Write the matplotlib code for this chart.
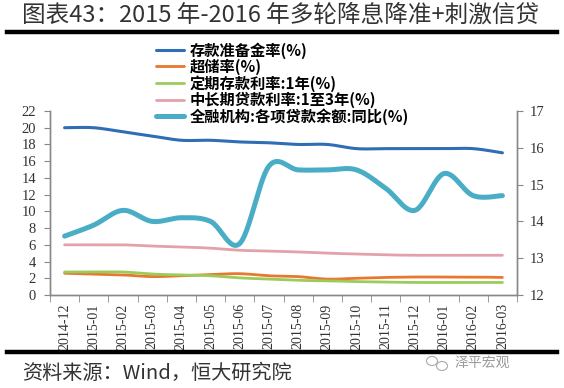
import numpy as np
import matplotlib
matplotlib.use("Agg")
import matplotlib.pyplot as plt
from matplotlib.patches import Ellipse

plt.rcParams['font.family'] = ['Noto Sans CJK SC', 'DejaVu Sans']

months = ["2014-12", "2015-01", "2015-02", "2015-03", "2015-04", "2015-05", "2015-06",
          "2015-07", "2015-08", "2015-09", "2015-10", "2015-11", "2015-12",
          "2016-01", "2016-02", "2016-03"]
rrr = [20.0, 20.0, 19.5, 19.0, 18.5, 18.5, 18.3, 18.2, 18.0, 18.0, 17.5, 17.5, 17.5, 17.5, 17.5, 17.0]
excess = [2.6, 2.5, 2.4, 2.2, 2.3, 2.45, 2.55, 2.3, 2.2, 1.9, 2.0, 2.1, 2.15, 2.15, 2.15, 2.1]
deposit_1y = [2.75, 2.75, 2.75, 2.5, 2.4, 2.3, 2.05, 1.9, 1.75, 1.7, 1.6, 1.55, 1.5, 1.5, 1.5, 1.5]
loan_1_3y = [6.0, 6.0, 6.0, 5.85, 5.75, 5.6, 5.35, 5.25, 5.15, 5.0, 4.9, 4.8, 4.75, 4.75, 4.75, 4.75]
loan_growth = [13.6, 13.9, 14.3, 14.0, 14.1, 14.0, 13.4, 15.5, 15.4, 15.4, 15.4, 14.9, 14.3, 15.3, 14.7, 14.7]

names = ["存款准备金率(%)", "超储率(%)", "定期存款利率:1年(%)", "中长期贷款利率:1至3年(%)",
         "全融机构:各项贷款余额:同比(%)"]
colors = ["#2F6DB5", "#E8782E", "#9CCB5A", "#E3A1AA", "#4AADC6"]
widths = [2.2, 2.0, 2.0, 2.0, 3.6]


def smooth(y, n=30):
    y = np.asarray(y, float)
    x = np.arange(len(y), dtype=float)
    xs, ys = [], []
    m = len(y)
    for i in range(m - 1):
        i0, i2, i3 = max(i - 1, 0), i + 1, min(i + 2, m - 1)
        p0 = np.array([x[i], y[i]])
        p3 = np.array([x[i2], y[i2]])
        c1 = p0 + (np.array([x[i2], y[i2]]) - np.array([x[i0], y[i0]])) / 6
        c2 = p3 - (np.array([x[i3], y[i3]]) - np.array([x[i], y[i]])) / 6
        t = np.linspace(0, 1, n)[:, None]
        pts = (1 - t) ** 3 * p0 + 3 * (1 - t) ** 2 * t * c1 + 3 * (1 - t) * t ** 2 * c2 + t ** 3 * p3
        xs.extend(pts[:, 0]); ys.extend(pts[:, 1])
    return np.array(xs), np.array(ys)


fig = plt.figure(figsize=(5.64, 3.88), dpi=100)
ax = fig.add_axes([50 / 564, 1 - 295 / 388, 467 / 564, 184 / 388])
ax2 = ax.twinx()

handles = []
for ser, c, w, nm in zip([rrr, excess, deposit_1y, loan_1_3y], colors[:4], widths[:4], names[:4]):
    sx, sy = smooth(ser)
    h, = ax.plot(sx, sy, color=c, lw=w, solid_capstyle='round', label=nm)
    handles.append(h)
sx, sy = smooth(loan_growth)
h, = ax2.plot(sx, sy, color=colors[4], lw=widths[4], solid_capstyle='round', label=names[4])
handles.append(h)

ax.set_xlim(-0.5, len(months) - 0.5)
ax.set_ylim(0, 22)
ax2.set_ylim(12, 17)
ax.set_yticks(np.arange(0, 23, 2))
ax2.set_yticks(np.arange(12, 18, 1))
ax.set_xticks(np.arange(len(months)))
ax.set_xticklabels(months, rotation=90, fontfamily='Liberation Serif', fontsize=10, color='#333333')
ax.set_xticks(np.arange(len(months) + 1) - 0.5, minor=True)
ax.tick_params(axis='x', which='major', length=0, pad=6)
ax.tick_params(axis='x', which='minor', length=5, color='#888888', direction='out')

for a in (ax, ax2):
    for s in a.spines.values():
        s.set_color('#888888')
        s.set_linewidth(1.0)
    a.spines['top'].set_visible(False)
for lab in ax.get_yticklabels() + ax2.get_yticklabels():
    lab.set_fontfamily('Liberation Serif')
    lab.set_fontsize(10.5)
    lab.set_color('#333333')
ax.tick_params(axis='y', length=4, color='#888888', pad=6)
ax2.tick_params(axis='y', length=4, color='#888888', pad=5)

fig.legend(handles=handles, labels=names, loc='upper left',
           bbox_to_anchor=(156 / 564, 1 - 42 / 388), frameon=False,
           prop={'family': ['Noto Sans CJK SC', 'DejaVu Sans'], 'size': 11, 'weight': 'bold'},
           handlelength=1.8, handletextpad=0.4, labelspacing=0.0, borderpad=0, borderaxespad=0)

fig.text(22 / 564, 1 - 15 / 388, "图表43：2015 年-2016 年多轮降息降准+刺激信贷",
         fontsize=17, color='#333333', va='center', ha='left')
fig.add_artist(plt.Line2D([7 / 564, 557 / 564], [1 - 32 / 388, 1 - 32 / 388], color='black', lw=3.2))
fig.add_artist(plt.Line2D([7 / 564, 557 / 564], [1 - 352 / 388, 1 - 352 / 388], color='black', lw=3.2))
fig.text(22 / 564, 1 - 373 / 388, "资料来源：Wind，恒大研究院", fontsize=14.5, color='#333333',
         va='center', ha='left', style='italic')
fig.text(455 / 564, 1 - 363 / 388, "泽平宏观", fontsize=10, color='#9a9a9a', va='center', ha='left')
fig.add_artist(Ellipse((432 / 564, 1 - 361 / 388), 11 / 564, 9 / 388, fill=False, ec='#aaaaaa', lw=0.8))
fig.add_artist(Ellipse((442 / 564, 1 - 366 / 388), 11 / 564, 9 / 388, fill=False, ec='#aaaaaa', lw=0.8))

fig.savefig("out.png", dpi=100, facecolor='white')
